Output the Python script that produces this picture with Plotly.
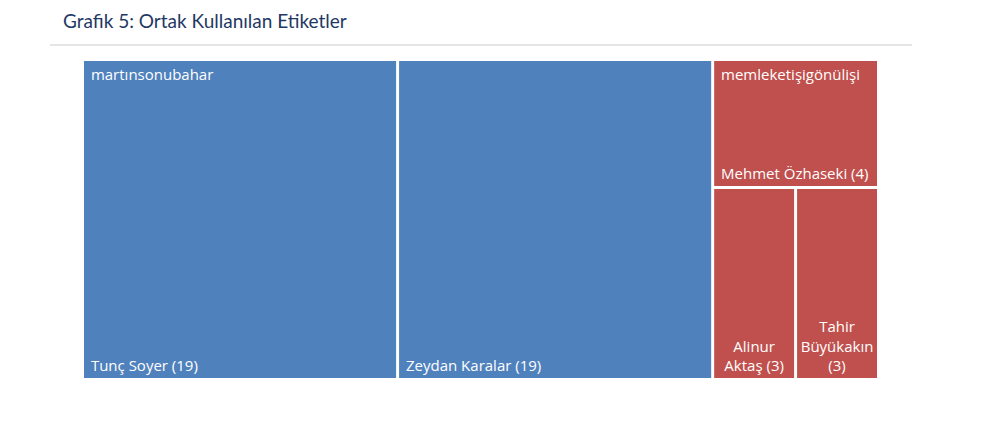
import plotly.graph_objects as go

# ---- data ----
groups = ["martınsonubahar", "memleketişigönülişi"]
group_colors = ["#4F81BD", "#C0504D"]
people = ["Tunç Soyer", "Zeydan Karalar", "Mehmet Özhaseki", "Alinur Aktaş", "Tahir Büyükakın"]
people_group = [0, 0, 1, 1, 1]
counts = [19, 19, 4, 3, 3]
# how each name is wrapped inside its tile (line breaks only)
people_wrapped = ["Tunç Soyer", "Zeydan Karalar", "Mehmet Özhaseki", "Alinur<br>Aktaş", "Tahir<br>Büyükakın<br>"]
# narrow tiles get centred labels
people_centered = [False, False, False, True, True]

title_text = "Grafik 5: Ortak Kullanılan Etiketler"

# ---- hierarchy ----
ids, labels, parents, values, colors = [], [], [], [], []
for gi, g in enumerate(groups):
    ids.append(g); labels.append(g); parents.append("")
    values.append(sum(c for c, pg in zip(counts, people_group) if pg == gi))
    colors.append("white")
for p, pg, c in zip(people, people_group, counts):
    ids.append(p); labels.append(p); parents.append(groups[pg])
    values.append(c); colors.append(group_colors[pg])

# bottom texts (person + count), split into left-aligned and centred sets
left_text = [""] * len(groups)
center_text = [""] * len(groups)
for w, c, ctr in zip(people_wrapped, counts, people_centered):
    sep = "" if w.endswith("<br>") else " "
    t = f"{w}{sep}({c})"
    if ctr:
        left_text.append(""); center_text.append(t)
    else:
        left_text.append("\u00a0" + t); center_text.append("")

# top texts (group name in first tile of each group)
top_text = [""] * len(groups)
seen = set()
for pg in people_group:
    if pg not in seen:
        top_text.append("\u00a0" + groups[pg]); seen.add(pg)
    else:
        top_text.append("")

OFF = 8  # page body margin
W, H = 981 - 2 * OFF, 421 - 2 * OFF


def px(x):
    return (x - OFF) / W


def py(y):
    return 1 - (y - OFF) / H


domain = dict(x=[px(84), px(877)], y=[py(378), py(61)])
common = dict(
    ids=ids, labels=labels, parents=parents, values=values,
    branchvalues="total", sort=True,
    tiling=dict(packing="squarify", squarifyratio=1.35, pad=3),
    pathbar=dict(visible=False),
    root=dict(color="rgba(0,0,0,0)"),
    domain=domain,
    hoverinfo="skip",
    textfont=dict(family="Open Sans", size=15, color="white"),
)
transparent = dict(colors=["rgba(0,0,0,0)"] * len(ids), line=dict(width=0),
                   pad=dict(t=0, l=0, r=0, b=0))

fig = go.Figure()
fig.add_trace(go.Treemap(
    **common,
    marker=dict(colors=colors, line=dict(width=0), pad=dict(t=0, l=0, r=0, b=0)),
    text=left_text, texttemplate="%{text}",
    textposition="bottom left",
))
fig.add_trace(go.Treemap(
    **common, marker=transparent,
    text=center_text, texttemplate="%{text}",
    textposition="bottom center",
))
fig.add_trace(go.Treemap(
    **common, marker=transparent,
    text=top_text, texttemplate="%{text}",
    textposition="top left",
))

fig.update_layout(
    width=W, height=H,
    margin=dict(l=0, r=0, t=0, b=0),
    paper_bgcolor="white",
    title=dict(text=title_text, x=px(63), xanchor="left", y=py(21), yanchor="middle",
               font=dict(family="Lato", size=19, color="#1F3864")),
    shapes=[dict(type="line", xref="paper", yref="paper",
                 x0=px(50), x1=px(912), y0=py(45), y1=py(45),
                 line=dict(color="#DCDCDC", width=1.5))],
    showlegend=False,
)
fig.write_html("out.html")
